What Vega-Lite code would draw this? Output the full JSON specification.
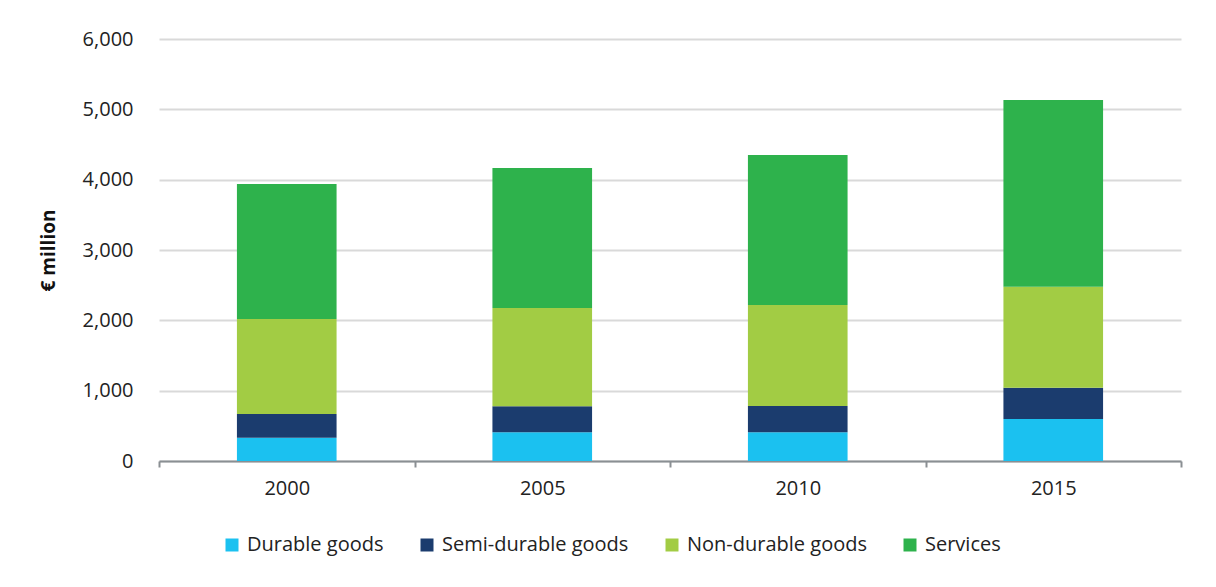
{
  "$schema": "https://vega.github.io/schema/vega-lite/v6.json",
  "autosize": "none",
  "width": 1022,
  "height": 422,
  "padding": {"left": 159, "top": 39, "right": 35, "bottom": 126},
  "background": "#ffffff",
  "config": {
    "font": "Open Sans",
    "view": {"stroke": null},
    "axis": {"labelFont": "Open Sans", "titleFont": "Open Sans"},
    "legend": {"labelFont": "Open Sans"}
  },
  "data": {
    "values": [
      {"year": "2000", "category": "Durable goods", "value": 330},
      {"year": "2000", "category": "Semi-durable goods", "value": 340},
      {"year": "2000", "category": "Non-durable goods", "value": 1350},
      {"year": "2000", "category": "Services", "value": 1920},
      {"year": "2005", "category": "Durable goods", "value": 410},
      {"year": "2005", "category": "Semi-durable goods", "value": 370},
      {"year": "2005", "category": "Non-durable goods", "value": 1395},
      {"year": "2005", "category": "Services", "value": 1990},
      {"year": "2010", "category": "Durable goods", "value": 408},
      {"year": "2010", "category": "Semi-durable goods", "value": 374},
      {"year": "2010", "category": "Non-durable goods", "value": 1436},
      {"year": "2010", "category": "Services", "value": 2133},
      {"year": "2015", "category": "Durable goods", "value": 597},
      {"year": "2015", "category": "Semi-durable goods", "value": 445},
      {"year": "2015", "category": "Non-durable goods", "value": 1436},
      {"year": "2015", "category": "Services", "value": 2655}
    ]
  },
  "transform": [
    {"calculate": "indexof(['Durable goods', 'Semi-durable goods', 'Non-durable goods', 'Services'], datum.category)", "as": "stackOrder"}
  ],
  "mark": {"type": "bar", "width": {"band": 0.39}},
  "encoding": {
    "x": {
      "field": "year",
      "type": "ordinal",
      "scale": {"paddingInner": 0, "paddingOuter": 0},
      "axis": {
        "title": null,
        "labelAngle": 0,
        "labelFontSize": 20,
        "labelColor": "#222222",
        "labelPadding": 11,
        "tickBand": "extent",
        "tickSize": 6,
        "tickWidth": 2,
        "tickColor": "#8a8f93",
        "domainColor": "#8a8f93",
        "domainWidth": 2,
        "grid": false
      }
    },
    "y": {
      "field": "value",
      "type": "quantitative",
      "stack": "zero",
      "scale": {"domain": [0, 6000], "nice": false},
      "axis": {
        "title": "€ million",
        "titleFontSize": 19,
        "titleFontWeight": "bold",
        "titleColor": "#111111",
        "titleX": -111,
        "titleAlign": "center",
        "titleBaseline": "middle",
        "titleAngle": -90,
        "values": [0, 1000, 2000, 3000, 4000, 5000, 6000],
        "format": ",d",
        "labelFontSize": 20,
        "labelColor": "#222222",
        "labelPadding": 26,
        "ticks": false,
        "domain": false,
        "grid": true,
        "gridColor": "#d9d9d9",
        "gridWidth": 2
      }
    },
    "color": {
      "field": "category",
      "type": "nominal",
      "scale": {
        "domain": ["Durable goods", "Semi-durable goods", "Non-durable goods", "Services"],
        "range": ["#1bc1f0", "#1b3c6e", "#a2cc44", "#2eb24c"]
      },
      "legend": {
        "title": null,
        "orient": "none",
        "direction": "horizontal",
        "legendX": 63,
        "legendY": 496,
        "symbolType": "square",
        "symbolSize": 169,
        "symbolStrokeWidth": 0,
        "labelFontSize": 20,
        "labelColor": "#222222",
        "labelOffset": 5,
        "labelLimit": 0,
        "columnPadding": 33
      }
    },
    "order": {"field": "stackOrder", "type": "quantitative", "sort": "ascending"}
  }
}
